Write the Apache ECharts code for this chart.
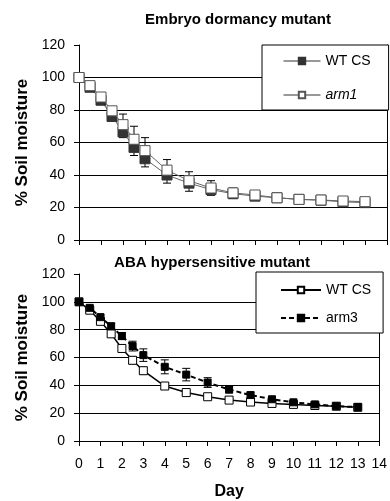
<!DOCTYPE html>
<html>
<head>
<meta charset="utf-8">
<script src="https://cdn.jsdelivr.net/npm/echarts@6/dist/echarts.min.js"></script>
<style>
  html, body { margin: 0; padding: 0; background: #fff; }
  #chart { width: 390px; height: 501px; }
</style>
</head>
<body>
<div id="chart"></div>
<script>
// days sampled (both panels)
const days = [0, 0.5, 1, 1.5, 2, 2.5, 3, 4, 5, 6, 7, 8, 9, 10, 11, 12, 13];
const dayTicks = ["0", "1", "2", "3", "4", "5", "6", "7", "8", "9", "10", "11", "12", "13", "14"];

// top panel: Embryo dormancy mutant
const wtTop = [100, 94, 86, 76, 66.5, 57, 50, 40, 35, 31, 28.5, 27, 26, 25, 24.5, 23.5, 23];
const wtTopErr = [0, 0, 1, 2, 3.5, 5, 5, 5, 5, 3.5, 3, 1.5, 1, 1, 1, 1, 1];
const arm1Top = [100, 95, 88, 79.5, 71, 62, 55, 43, 36.5, 32, 29, 27.7, 26, 25, 24.6, 24, 23.6];
const arm1TopErr = [0, 0, 1, 2, 6.5, 8, 8, 6.5, 5.5, 4.5, 3, 1.5, 1, 1, 1, 1, 1];

// bottom panel: ABA hypersensitive mutant
const wtBot = [100, 94, 86, 77, 66.5, 58, 50.5, 39.5, 34.8, 31.8, 29.4, 28, 27, 26.3, 25.5, 25, 24.2];
const wtBotErr = [0, 1, 1.5, 2, 2, 2.5, 2.5, 2, 1.5, 1, 1, 1, 1, 1, 0.5, 0.5, 0.5];
const arm3Bot = [100, 95.7, 89, 82.5, 75.4, 68.2, 61.7, 53.3, 47.7, 42, 37, 33, 30, 27.8, 26.3, 25, 24.4];
const arm3BotErr = [0, 1, 1.5, 2, 2.5, 3.5, 4.5, 5, 4.5, 3.5, 2.5, 2, 1.5, 1, 1, 0.5, 0.5];

const FONT = "Liberation Sans, Arial, sans-serif";

const pts = (ys) => days.map((d, i) => [d, ys[i]]);
// [day, low, high]
const errs = (ys, es, up, down) => days.map((d, i) => [d, down ? ys[i] - es[i] : ys[i], up ? ys[i] + es[i] : ys[i]]);

function renderErr(params, api) {
  const x = api.value(0);
  const lo = api.coord([x, api.value(1)]);
  const hi = api.coord([x, api.value(2)]);
  const w = 4;
  const style = { stroke: "#000", lineWidth: 1 };
  return {
    type: "group",
    children: [
      { type: "line", shape: { x1: lo[0], y1: lo[1], x2: hi[0], y2: hi[1] }, style },
      { type: "line", shape: { x1: lo[0] - w, y1: lo[1], x2: lo[0] + w, y2: lo[1] }, style },
      { type: "line", shape: { x1: hi[0] - w, y1: hi[1], x2: hi[0] + w, y2: hi[1] }, style },
    ],
  };
}

function yAxisFor(grid) {
  return {
    type: "value", gridIndex: grid, min: 0, max: 120, interval: 20,
    name: "% Soil moisture",
    nameLocation: "middle", nameGap: 48,
    nameTextStyle: { fontFamily: FONT, fontSize: 17, fontWeight: "bold", color: "#000" },
    axisLine: { show: true, lineStyle: { color: "#000", width: 1 } },
    axisTick: { show: true, length: 5, lineStyle: { color: "#000" } },
    axisLabel: { fontFamily: FONT, fontSize: 14, color: "#000", margin: 14 },
    splitLine: { show: true, showMaxLine: false, showMinLine: false, lineStyle: { color: "#000", width: 1 } },
  };
}

function rightLine(grid) {
  return {
    type: "value", gridIndex: grid, position: "right", min: 0, max: 120,
    axisLine: { show: true, lineStyle: { color: "#000", width: 1 } },
    axisTick: { show: false }, axisLabel: { show: false }, splitLine: { show: false },
  };
}

const chart = echarts.init(document.getElementById("chart"));
chart.setOption({
  backgroundColor: "#fff",
  animation: false,
  title: [
    { text: "Embryo dormancy mutant", left: 233, top: 7, textAlign: "center",
      textStyle: { fontFamily: FONT, fontSize: 15, fontWeight: "bold", color: "#000" } },
    { text: "ABA hypersensitive mutant", left: 207, top: 250, textAlign: "center",
      textStyle: { fontFamily: FONT, fontSize: 15, fontWeight: "bold", color: "#000" } },
  ],
  grid: [
    { left: 79, right: 3, top: 45, height: 195 },
    { left: 79, right: 7, top: 274, height: 167 },
  ],
  legend: [
    {
      orient: "vertical", left: 262, top: 45,
      backgroundColor: "#fff", borderColor: "#000", borderWidth: 1,
      padding: [9, 18, 8, 21], itemGap: 20, itemWidth: 37, itemHeight: 8,
      lineStyle: { width: 1, color: "#333" },
      textStyle: { fontFamily: FONT, fontSize: 14, color: "#000" },
      data: [{ name: "WT CS" }, { name: "arm1", textStyle: { fontStyle: "italic" } }],
    },
    {
      orient: "vertical", left: 256, top: 272,
      backgroundColor: "#fff", borderColor: "#000", borderWidth: 1,
      padding: [11, 12, 8, 24], itemGap: 14, itemWidth: 40, itemHeight: 8,
      textStyle: { fontFamily: FONT, fontSize: 14, color: "#000" },
      formatter: (n) => n.trim(),
      data: [{ name: "WT CS " }, { name: "arm3" }],
    },
  ],
  xAxis: [
    {
      type: "value", gridIndex: 0, min: 0, max: 14, interval: 1,
      axisLine: { lineStyle: { color: "#000" } },
      axisTick: { show: true, length: 5, lineStyle: { color: "#000" } },
      axisLabel: { show: false }, splitLine: { show: false },
    },
    {
      type: "value", gridIndex: 1, min: 0, max: 14, interval: 1,
      name: "Day", nameLocation: "middle", nameGap: 43,
      nameTextStyle: { fontFamily: FONT, fontSize: 16, fontWeight: "bold", color: "#000" },
      axisLine: { lineStyle: { color: "#000" } },
      axisTick: { show: true, length: 5, lineStyle: { color: "#000" } },
      axisLabel: { fontFamily: FONT, fontSize: 14, color: "#000", margin: 16,
        formatter: (v) => dayTicks[Math.round(v)] },
      splitLine: { show: false },
    },
  ],
  yAxis: [yAxisFor(0), rightLine(0), yAxisFor(1), rightLine(1)],
  series: [
    // top panel
    { type: "custom", name: "errWT", xAxisIndex: 0, yAxisIndex: 0, z: 1,
      renderItem: renderErr, data: errs(wtTop, wtTopErr, false, true) },
    { type: "custom", name: "errArm1", xAxisIndex: 0, yAxisIndex: 0, z: 1,
      renderItem: renderErr, data: errs(arm1Top, arm1TopErr, true, false) },
    { type: "line", name: "WT CS", xAxisIndex: 0, yAxisIndex: 0, z: 3,
      data: pts(wtTop), symbol: "rect", symbolSize: 10,
      lineStyle: { color: "#666", width: 1 },
      itemStyle: { color: "#333", borderColor: "#333", borderWidth: 1 } },
    { type: "line", name: "arm1", xAxisIndex: 0, yAxisIndex: 0, z: 4,
      data: pts(arm1Top), symbol: "rect", symbolSize: 10,
      lineStyle: { color: "#666", width: 1 },
      itemStyle: { color: "#fff", borderColor: "#555", borderWidth: 1 } },
    // bottom panel
    { type: "custom", name: "errWT2", xAxisIndex: 1, yAxisIndex: 2, z: 1,
      renderItem: renderErr, data: errs(wtBot, wtBotErr, true, true) },
    { type: "custom", name: "errArm3", xAxisIndex: 1, yAxisIndex: 2, z: 1,
      renderItem: renderErr, data: errs(arm3Bot, arm3BotErr, true, true) },
    { type: "line", name: "WT CS ", xAxisIndex: 1, yAxisIndex: 2, z: 3,
      data: pts(wtBot), symbol: "rect", symbolSize: 8,
      lineStyle: { color: "#000", width: 1.5 },
      itemStyle: { color: "#fff", borderColor: "#000", borderWidth: 1 } },
    { type: "line", name: "arm3", xAxisIndex: 1, yAxisIndex: 2, z: 4,
      data: pts(arm3Bot), symbol: "rect", symbolSize: 7,
      lineStyle: { color: "#000", width: 2, type: [5, 3] },
      itemStyle: { color: "#000", borderColor: "#000", borderWidth: 1 } },
  ],
});
</script>
</body>
</html>
